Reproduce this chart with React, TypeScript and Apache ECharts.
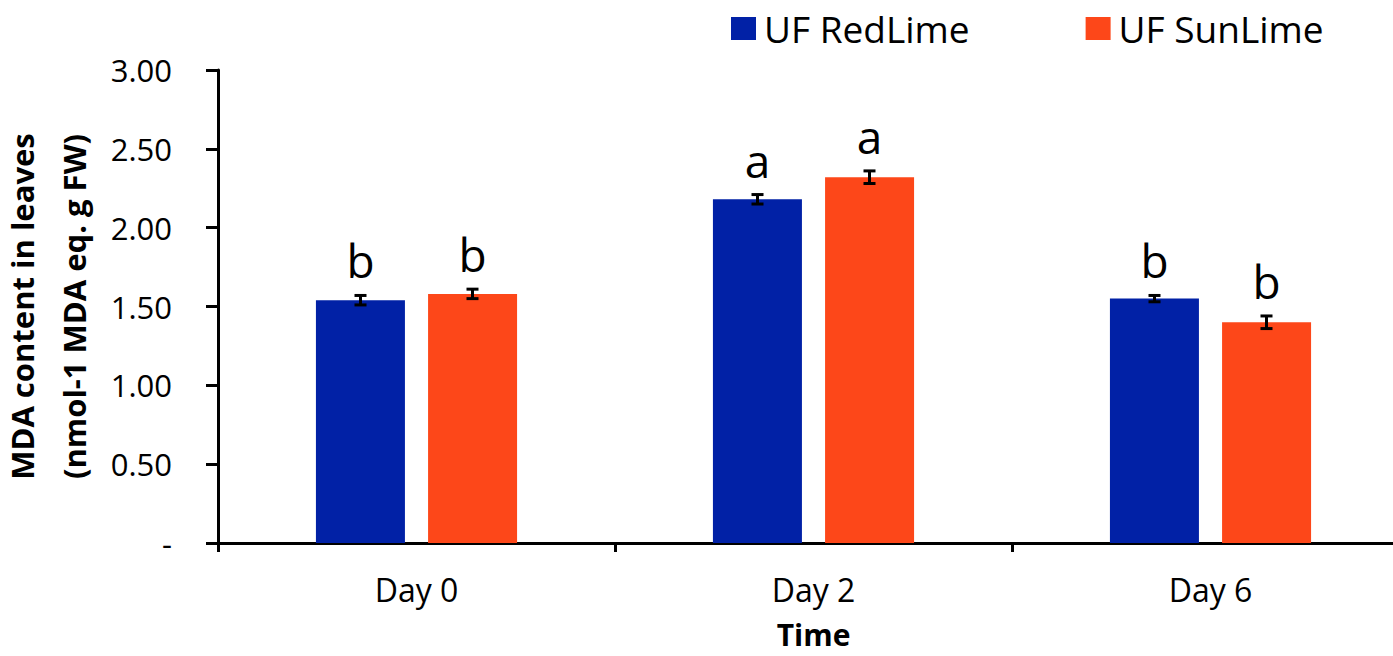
import React, { useEffect, useRef } from "react";
import * as echarts from "echarts";

const categories = ["Day 0", "Day 2", "Day 6"];
const seriesNames = ["UF RedLime", "UF SunLime"];
const redLime = [1.54, 2.18, 1.55];
const redLimeErr = [0.03, 0.03, 0.02];
const sunLime = [1.58, 2.32, 1.4];
const sunLimeErr = [0.03, 0.04, 0.04];
const redLimeLetters = ["b", "a", "b"];
const sunLimeLetters = ["b", "a", "b"];
const yTicks = [0, 0.5, 1, 1.5, 2, 2.5, 3];

const BLUE = "#0121A6";
const ORANGE = "#FD4719";
const FONT = "Open Sans";

function errSeries(values: number[], errs: number[], letters: string[], offset: number) {
  return {
    type: "custom",
    coordinateSystem: "cartesian2d",
    clip: false,
    z: 10,
    silent: true,
    data: values.map((v, i) => [i, v, errs[i]]),
    encode: { x: 0, y: 1 },
    renderItem: (params: any, api: any) => {
      const idx = params.dataIndex;
      const ci = api.value(0);
      const v = api.value(1);
      const e = api.value(2);
      const top = api.coord([ci, v + e]);
      const bot = api.coord([ci, v - e]);
      const x = top[0] + offset;
      const cap = 6;
      const st = { stroke: "#000", lineWidth: 3 };
      return {
        type: "group",
        children: [
          { type: "line", shape: { x1: x, y1: top[1], x2: x, y2: bot[1] }, style: st },
          { type: "line", shape: { x1: x - cap, y1: top[1], x2: x + cap, y2: top[1] }, style: st },
          { type: "line", shape: { x1: x - cap, y1: bot[1], x2: x + cap, y2: bot[1] }, style: st },
          {
            type: "text",
            x: x,
            y: top[1] - 12,
            style: {
              text: letters[idx],
              fontFamily: FONT,
              fontSize: 46,
              fill: "#000",
              align: "center",
              verticalAlign: "bottom",
            },
          },
        ],
      };
    },
  };
}

export default function App() {
  const ref = useRef<HTMLDivElement>(null);
  useEffect(() => {
    if (!ref.current) return;
    const chart = echarts.init(ref.current, null, { renderer: "svg" });
    chart.setOption({
      animation: false,
      backgroundColor: "#fff",
      legend: {
        data: seriesNames,
        left: 726,
        top: 5,
        itemWidth: 25,
        itemHeight: 23,
        itemGap: 116,
        icon: "rect",
        textStyle: { fontFamily: FONT, fontSize: 37, color: "#000", padding: [0, 0, 0, 3] },
      },
      grid: {
        left: 218,
        top: 70,
        width: 1191,
        height: 473,
        containLabel: false,
        outerBoundsMode: "none",
      },
      xAxis: {
        type: "category",
        data: categories,
        name: "Time",
        nameLocation: "middle",
        nameGap: 91,
        nameTextStyle: {
          fontFamily: FONT,
          fontSize: 30,
          fontWeight: "bold",
          color: "#000",
          lineHeight: 30,
          verticalAlign: "middle",
        },
        axisLine: { lineStyle: { color: "#000", width: 3 } },
        axisTick: { show: true, length: 9, lineStyle: { color: "#000", width: 3 } },
        axisLabel: { fontFamily: FONT, fontSize: 32, color: "#000", margin: 30 },
      },
      yAxis: {
        type: "value",
        min: 0,
        max: 3,
        interval: 0.5,
        name: "MDA content in leaves\n(nmol-1 MDA eq. g FW)",
        nameLocation: "middle",
        nameGap: 117,
        nameTextStyle: { fontFamily: FONT, fontSize: 31, fontWeight: "bold", color: "#000", lineHeight: 52 },
        axisLine: { show: true, lineStyle: { color: "#000", width: 3 } },
        axisTick: { show: true, length: 12, lineStyle: { color: "#000", width: 3 } },
        splitLine: { show: false },
        axisLabel: {
          fontFamily: FONT,
          fontSize: 31,
          color: "#000",
          margin: 46,
          formatter: (v: number) => {
            const t = yTicks.find((k) => Math.abs(k - v) < 1e-9);
            if (t === undefined) return "";
            return t === 0 ? "-" : t.toFixed(2);
          },
        },
      },
      series: [
        {
          name: seriesNames[0],
          type: "bar",
          data: redLime,
          barWidth: 89,
          barGap: "26%",
          itemStyle: { color: BLUE },
        },
        {
          name: seriesNames[1],
          type: "bar",
          data: sunLime,
          barWidth: 89,
          barGap: "26%",
          itemStyle: { color: ORANGE },
        },
        errSeries(redLime, redLimeErr, redLimeLetters, -56),
        errSeries(sunLime, sunLimeErr, sunLimeLetters, 56),
      ],
    });
    return () => chart.dispose();
  }, []);
  return (
    <div
      ref={ref}
      style={{ position: "fixed", left: 0, top: 0, width: 1393, height: 656 }}
    />
  );
}
